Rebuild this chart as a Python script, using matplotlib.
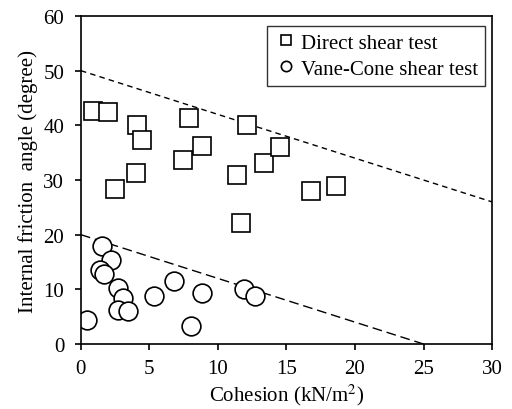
import matplotlib
matplotlib.use('Agg')
import matplotlib.pyplot as plt
import numpy as np

# direct shear test (cohesion kN/m2, friction angle deg)
ds_c = [0.9, 1.95, 4.07, 4.47, 7.88, 8.86, 7.42, 12.1, 11.36, 13.38, 14.55, 3.99, 2.48, 16.8, 18.6, 11.7]
ds_phi = [42.6, 42.5, 40.1, 37.4, 41.4, 36.3, 33.6, 40.1, 31.0, 33.1, 36.0, 31.3, 28.4, 27.9, 28.9, 22.1]

# vane-cone shear test
vc_c = [0.46, 1.55, 2.17, 1.39, 1.7, 2.72, 3.09, 2.68, 3.45, 5.35, 6.81, 8.0, 8.85, 11.9, 12.7]
vc_phi = [4.4, 17.9, 15.4, 13.5, 12.8, 10.2, 8.4, 6.2, 6.1, 8.8, 11.5, 3.3, 9.4, 10.0, 8.8]

# boundary lines
upper_x = [0, 30]
upper_y = [50, 26]
lower_x = [0, 25]
lower_y = [20, 0]

plt.rcParams['font.family'] = ['Liberation Serif', 'DejaVu Serif']
plt.rcParams['font.size'] = 15
plt.rcParams['mathtext.fontset'] = 'stix'

fig = plt.figure(figsize=(5.12, 4.10), dpi=100)
ax = fig.add_axes([0.158, 0.1585, 0.803, 0.80])

ax.plot(upper_x, upper_y, color='k', lw=1.0, ls=(0, (4, 3)))
ax.plot(lower_x, lower_y, color='k', lw=1.0, ls=(0, (7, 3.5)))

ax.plot(ds_c, ds_phi, ls='none', marker='s', ms=13.5, mfc='white', mec='k', mew=1.2,
        label='Direct shear test')
ax.plot(vc_c, vc_phi, ls='none', marker='o', ms=13.5, mfc='white', mec='k', mew=1.2,
        label='Vane-Cone shear test')

ax.set_xlim(0, 30)
ax.set_ylim(0, 60)
ax.set_xticks(np.arange(0, 31, 5))
ax.set_yticks(np.arange(0, 61, 10))
ax.tick_params(direction='out', length=4, width=1.2, top=False, right=False)
ax.tick_params(axis='x', pad=7)
ax.tick_params(axis='y', pad=8)
for s in ax.spines.values():
    s.set_linewidth(1.2)

ax.set_xlabel('Cohesion (kN/m$^2$)', labelpad=2)
ax.set_ylabel('Internal friction  angle (degree)')

leg = ax.legend(loc='upper right', bbox_to_anchor=(0.983, 0.97), markerscale=0.55,
                frameon=True, fancybox=False, edgecolor='k', handlelength=1.1,
                handletextpad=0.15, borderpad=0.35, labelspacing=0.3, borderaxespad=0)
leg.get_frame().set_linewidth(1.0)

fig.savefig('out.png', dpi=100)
